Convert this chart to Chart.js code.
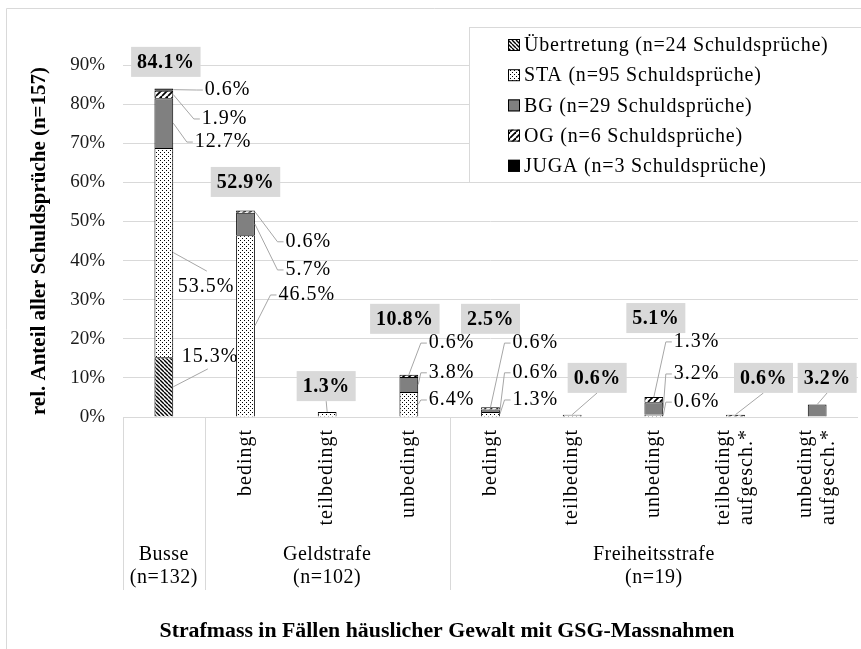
<!DOCTYPE html>
<html>
<head>
<meta charset="utf-8">
<script src="https://cdn.jsdelivr.net/npm/chart.js@4.4.1/dist/chart.umd.min.js"></script>
<style>
  html, body { margin: 0; padding: 0; background: #fff; }
  canvas { display: block; }
</style>
</head>
<body>
<canvas id="grafik" width="861" height="649"></canvas>
<script>
// ======================================
// DATEN
// ======================================
const kategorien = ['Busse', 'bedingt', 'teilbedingt', 'unbedingt', 'bedingt', 'teilbedingt', 'unbedingt',
    ['teilbedingt', 'aufgesch.*'], ['unbedingt', 'aufgesch.*']];
const gruppen = [['Busse', '(n=132)'], ['Geldstrafe', '(n=102)'], ['Freiheitsstrafe', '(n=19)']];
const gruppenSpannen = [1, 3, 5];

const serienNamen = [
    'Übertretung (n=24 Schuldsprüche)',
    'STA (n=95 Schuldsprüche)',
    'BG (n=29 Schuldsprüche)',
    'OG (n=6 Schuldsprüche)',
    'JUGA (n=3 Schuldsprüche)'
];
const uebertretung = [15.3, null, null, null, null, null, null, null, null];
const sta = [53.5, 46.5, 1.3, 6.4, 1.3, 0.6, 0.6, null, null];
const bg = [12.7, 5.7, null, 3.8, 0.6, null, 3.2, null, 3.2];
const og = [1.9, 0.6, null, 0.6, 0.6, null, 1.3, 0.6, null];
const juga = [0.6, null, null, null, null, null, null, null, null];
const totale = [84.1, 52.9, 1.3, 10.8, 2.5, 0.6, 5.1, 0.6, 3.2];

const yTicks = [0, 10, 20, 30, 40, 50, 60, 70, 80, 90];

// Lage der Beschriftungen: [kategorie, serie, dx ab Balkenmitte, y-Wert, anker, ende dx, ende y]
const segLayout = [
    [0, 4, 41, 83.6, 'r'],
    [0, 3, 38, 76.2, 'r'],
    [0, 2, 31, 70.3, 'r'],
    [0, 1, 14, 33.2, 'r', 43, 37.3],
    [0, 0, 18, 15.3, 'r', 44, 12.3],
    [1, 3, 40, 44.8, 'r'],
    [1, 2, 40, 37.6, 'r'],
    [1, 1, 33, 31.2, 'r'],
    [3, 3, 20, 18.9, 't'],
    [3, 2, 20, 11.3, 'r'],
    [3, 1, 20, 4.35, 'r'],
    [4, 3, 22, 18.9, 't'],
    [4, 2, 22, 11.3, 'r'],
    [4, 1, 22, 4.35, 'r'],
    [6, 3, 20, 19.2, 't'],
    [6, 2, 20, 11.0, 'r'],
    [6, 1, 20, 3.8, 'r']
];
// Summenfelder: [kategorie, dx, y-Wert, linie]
const totalLayout = [
    [0, 2, 90.8, false], [1, 0, 60.1, false], [2, -1, 7.9, true], [3, -4, 25.1, false],
    [4, 0, 25.1, false], [5, 25, 10.0, true], [6, 2, 25.3, false], [7, 28, 10.0, true], [8, 10, 10.0, true]
];

const SERIF = '"Liberation Serif", "Times New Roman", serif';

// ======================================
// MUSTER
// ======================================
function muster(size, zeichne) {
    const c = document.createElement('canvas');
    c.width = size; c.height = size;
    const g = c.getContext('2d');
    g.fillStyle = '#fff';
    g.fillRect(0, 0, size, size);
    zeichne(g, size);
    return document.getElementById('grafik').getContext('2d').createPattern(c, 'repeat');
}

const musterUeb = muster(4, (g, s) => {
    g.strokeStyle = '#000'; g.lineWidth = 1.4;
    for (let o = -s; o <= s; o += s) {
        g.beginPath(); g.moveTo(o, 0); g.lineTo(o + s, s); g.stroke();
    }
});
const musterSta = muster(4, (g) => {
    g.fillStyle = '#000';
    g.fillRect(0, 0, 1, 1);
    g.fillRect(2, 2, 1, 1);
});
const musterOg = muster(6, (g, s) => {
    g.strokeStyle = '#000'; g.lineWidth = 1.8;
    for (let o = -s; o <= s; o += s) {
        g.beginPath(); g.moveTo(o, s); g.lineTo(o + s, 0); g.stroke();
    }
});
const fuellungen = [musterUeb, musterSta, '#808080', musterOg, '#000000'];
const reihen = [uebertretung, sta, bg, og, juga];

// ======================================
// ZUSATZ-ZEICHNUNGEN
// ======================================
const beschriftung = {
    id: 'beschriftung',
    afterDatasetsDraw(chart) {
        const ctx = chart.ctx;
        const xs = chart.scales.x;
        const ys = chart.scales.y;
        ctx.save();

        // Segment-Beschriftungen mit Führungslinien
        segLayout.forEach(([k, s, dx, yv, anker, ex, ey]) => {
            const bar = chart.getDatasetMeta(s).data[k].getProps(['x', 'y', 'base', 'width'], true);
            const cx = xs.getPixelForValue(k);
            let ax, ay;
            if (anker === 't') { ax = cx; ay = bar.y; }
            else { ax = bar.x + bar.width / 2; ay = (bar.y + bar.base) / 2; }
            const lx = cx + dx;
            const ly = ys.getPixelForValue(yv);
            ctx.strokeStyle = '#a6a6a6';
            ctx.lineWidth = 1;
            ctx.beginPath();
            ctx.moveTo(ax, ay);
            if (ex !== undefined) {
                ctx.lineTo(cx + ex, ys.getPixelForValue(ey));
            } else {
                ctx.lineTo(lx - 8, ly);
                ctx.lineTo(lx - 2, ly);
            }
            ctx.stroke();
            ctx.fillStyle = '#000';
            ctx.font = '20px ' + SERIF;
            ctx.letterSpacing = '1px';
            ctx.textAlign = 'left';
            ctx.textBaseline = 'middle';
            ctx.fillText(reihen[s][k].toFixed(1) + '%', lx, ly);
        });

        // Summen in grauen Feldern
        totalLayout.forEach(([k, dx, yv, linie]) => {
            const cx = xs.getPixelForValue(k);
            const bx = cx + dx;
            const by = ys.getPixelForValue(yv);
            const text = totale[k].toFixed(1) + '%';
            ctx.font = 'bold 20px ' + SERIF;
            ctx.letterSpacing = '0.5px';
            const w = ctx.measureText(text).width + 12;
            const h = 30;
            if (linie) {
                ctx.strokeStyle = '#a6a6a6';
                ctx.lineWidth = 1;
                ctx.beginPath();
                ctx.moveTo(cx, ys.getPixelForValue(totale[k]));
                ctx.lineTo(bx, by + h / 2);
                ctx.stroke();
            }
            ctx.fillStyle = '#d9d9d9';
            ctx.fillRect(bx - w / 2, by - h / 2, w, h);
            ctx.fillStyle = '#000';
            ctx.textAlign = 'center';
            ctx.textBaseline = 'middle';
            ctx.fillText(text, bx, by + 1);
        });
        ctx.restore();
    },
    afterDraw(chart) {
        const ctx = chart.ctx;
        const xs = chart.scales.x;
        const area = chart.chartArea;
        ctx.save();

        // Rahmen links/oben
        ctx.strokeStyle = '#d9d9d9';
        ctx.lineWidth = 1;
        ctx.beginPath();
        ctx.moveTo(6.5, 700); ctx.lineTo(6.5, 8.5); ctx.lineTo(900, 8.5);
        ctx.stroke();

        // Legende
        const lx = 469.5, ly = 27.5;
        ctx.fillStyle = '#fff';
        ctx.fillRect(lx, ly, 400, 155);
        ctx.strokeRect(lx, ly, 400, 155);
        serienNamen.forEach((name, i) => {
            const ry = 45 + i * 30.2;
            ctx.fillStyle = fuellungen[i];
            ctx.fillRect(508, ry - 6, 12, 12);
            ctx.strokeStyle = '#000';
            ctx.strokeRect(508.5, ry - 5.5, 11, 11);
            ctx.fillStyle = '#000';
            ctx.font = '20px ' + SERIF;
            ctx.letterSpacing = '0.8px';
            ctx.textAlign = 'left';
            ctx.textBaseline = 'middle';
            ctx.fillText(name, 524, ry + 1);
        });

        // Kategorie- und Gruppenachse
        ctx.strokeStyle = '#d9d9d9';
        let start = 0;
        const grenzen = [area.left];
        gruppenSpannen.forEach((n, g) => {
            const ende = start + n - 1;
            const x0 = xs.getPixelForValue(start);
            const x1 = xs.getPixelForValue(ende);
            ctx.fillStyle = '#000';
            ctx.font = '20px ' + SERIF;
            ctx.letterSpacing = '0.5px';
            ctx.textAlign = 'center';
            ctx.textBaseline = 'middle';
            ctx.fillText(gruppen[g][0], (x0 + x1) / 2, 555);
            ctx.fillText(gruppen[g][1], (x0 + x1) / 2, 578);
            if (n > 1) {
                for (let k = start; k <= ende; k++) {
                    const zeilen = Array.isArray(kategorien[k]) ? kategorien[k] : [kategorien[k]];
                    ctx.save();
                    ctx.translate(xs.getPixelForValue(k), 429);
                    ctx.rotate(-Math.PI / 2);
                    ctx.letterSpacing = '1px';
                    ctx.textAlign = 'right';
                    zeilen.forEach((z, j) => ctx.fillText(z, 0, (j - (zeilen.length - 1) / 2) * 23));
                    ctx.restore();
                }
            }
            if (g < gruppenSpannen.length - 1) {
                grenzen.push((x1 + xs.getPixelForValue(ende + 1)) / 2);
            }
            start += n;
        });
        ctx.lineWidth = 1;
        grenzen.forEach(x => {
            ctx.beginPath();
            ctx.moveTo(Math.round(x) + 0.5, area.bottom);
            ctx.lineTo(Math.round(x) + 0.5, 590);
            ctx.stroke();
        });

        // Titel unten
        const titel = 'Strafmass in Fällen häuslicher Gewalt mit GSG-Massnahmen';
        ctx.font = 'bold 20px ' + SERIF;
        ctx.letterSpacing = '0px';
        const tw = ctx.measureText(titel).width;
        ctx.translate(447, 632);
        ctx.scale(575 / tw, 1.05);
        ctx.fillStyle = '#000';
        ctx.textAlign = 'center';
        ctx.textBaseline = 'middle';
        ctx.fillText(titel, 0, 0);
        ctx.restore();
    }
};

// ======================================
// DIAGRAMM
// ======================================
new Chart(document.getElementById('grafik'), {
    type: 'bar',
    data: {
        labels: kategorien,
        datasets: reihen.map((werte, i) => ({
            label: serienNamen[i],
            data: werte,
            backgroundColor: fuellungen[i],
            borderColor: '#000',
            borderWidth: 1,
            barPercentage: 0.23,
            categoryPercentage: 1
        }))
    },
    options: {
        responsive: false,
        animation: false,
        layout: { padding: { left: 0, right: 3, top: 65, bottom: 232 } },
        plugins: {
            legend: { display: false },
            tooltip: { enabled: false }
        },
        scales: {
            x: {
                stacked: true,
                display: false
            },
            y: {
                stacked: true,
                min: 0,
                max: 90,
                afterBuildTicks: (s) => { s.ticks = yTicks.map(v => ({ value: v })); },
                afterFit: (s) => { s.width = 123; },
                border: { display: false },
                grid: { color: '#d9d9d9', drawTicks: false },
                ticks: {
                    padding: 18,
                    color: '#1a1a1a',
                    font: { family: SERIF, size: 19 },
                    callback: (v) => v + '%'
                },
                title: {
                    display: true,
                    text: 'rel. Anteil aller Schuldsprüche (n=157)',
                    color: '#000',
                    font: { family: SERIF, size: 21, weight: 'bold' },
                    padding: { top: 27, bottom: 0 }
                }
            }
        }
    },
    plugins: [beschriftung]
});
</script>
</body>
</html>
